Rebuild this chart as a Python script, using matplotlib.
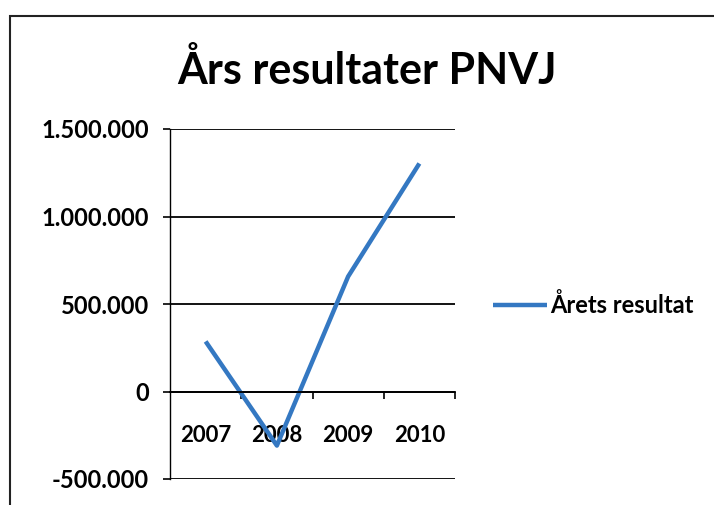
import matplotlib.pyplot as plt
import matplotlib.ticker as mticker
from matplotlib.patches import Rectangle

years = ['2007', '2008', '2009', '2010']
resultat = [286000, -309000, 657000, 1303000]
series_label = 'Årets resultat'
title = 'Års resultater PNVJ'

plt.rcParams['font.family'] = ['Lato', 'DejaVu Sans']
plt.rcParams['font.weight'] = 'bold'

fig = plt.figure(figsize=(7.14, 5.05), dpi=100)
fig.patches.append(Rectangle((10 / 714, -0.1), 1.2, 1.1 - 16 / 505, transform=fig.transFigure,
                             fill=False, edgecolor='#222222', linewidth=1.5))

ax = fig.add_axes([170 / 714, 1 - 479 / 505, 285 / 714, 350 / 505])
x = range(1, len(years) + 1)
ax.plot(x, resultat, color='#3478c2', linewidth=3.2, solid_capstyle='butt', label=series_label)

ax.set_xlim(0.5, 4.5)
ax.set_ylim(-500000, 1500000)
ax.set_yticks([-500000, 0, 500000, 1000000, 1500000])
ax.yaxis.set_major_formatter(mticker.FuncFormatter(lambda v, p: f'{int(v):,}'.replace(',', '.')))
ax.grid(axis='y', color='black', linewidth=1.3)
ax.set_axisbelow(True)

ax.set_xticks(list(x))
ax.set_xticklabels(years)
ax.set_xticks([1.5, 2.5, 3.5, 4.5], minor=True)
ax.tick_params(axis='x', which='major', length=0, pad=24, labelsize=16)
ax.tick_params(axis='x', which='minor', length=5, width=1.2, direction='out')
ax.tick_params(axis='y', length=5, width=1.2, pad=10, labelsize=17)

for s in ['top', 'right']:
    ax.spines[s].set_visible(False)
ax.spines['bottom'].set_position(('data', 0))
ax.spines['bottom'].set_linewidth(1.3)
ax.spines['left'].set_linewidth(1.0)

fig.text(367 / 714, 1 - 70 / 505, title, ha='center', va='center', fontsize=31, fontweight='bold')

ax.legend(loc='center left', bbox_to_anchor=(493 / 714, 1 - 305 / 505), bbox_transform=fig.transFigure,
          frameon=False, fontsize=17, handlelength=2.3, handletextpad=0.1, borderaxespad=0, borderpad=0)

fig.savefig('out.png', dpi=100)
